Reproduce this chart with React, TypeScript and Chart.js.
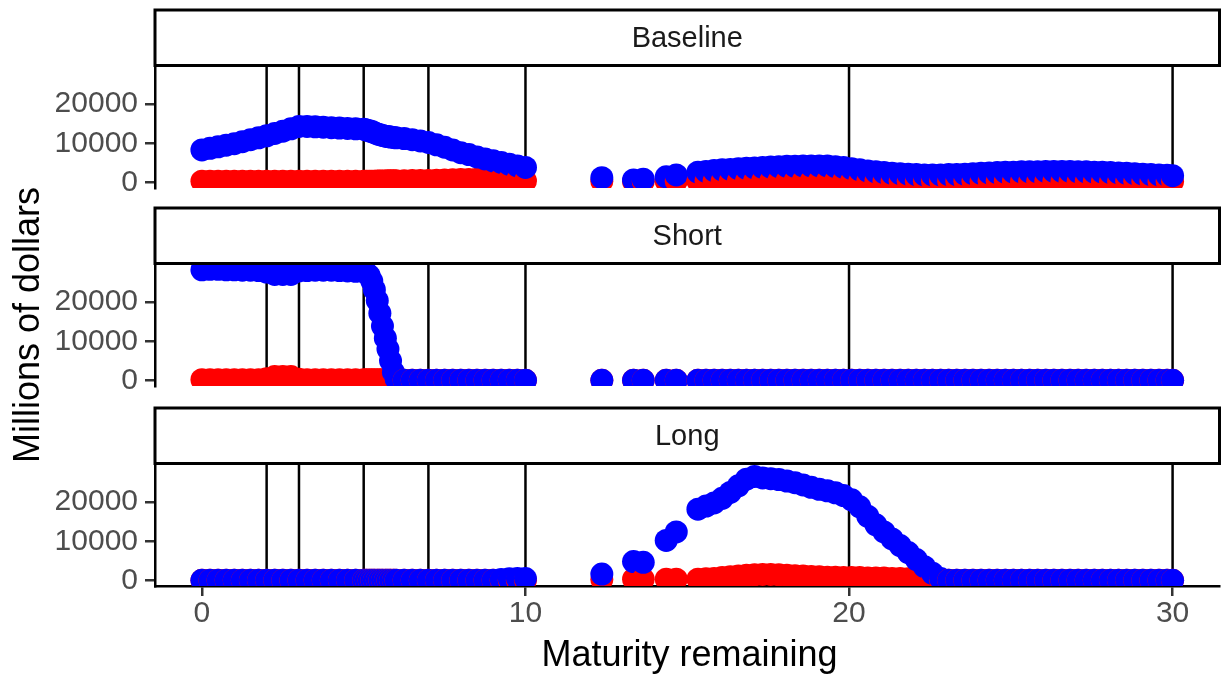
import React, { useEffect, useRef } from "react";
import { Chart, registerables } from "chart.js";

Chart.register(...registerables);

// Years to maturity of each security (shared by all scenarios)
const maturity = [
  0, 0.25, 0.5, 0.75, 1, 1.25, 1.5, 1.75, 2, 2.25,
  2.5, 2.75, 3, 3.25, 3.5, 3.75, 4, 4.25, 4.5, 4.75,
  5, 5.08, 5.17, 5.25, 5.33, 5.42, 5.5, 5.58, 5.67, 5.75, 5.83, 5.92,
  6, 6.25, 6.5, 6.75, 7, 7.25, 7.5, 7.75, 8, 8.25, 8.5, 8.75, 9, 9.25, 9.5, 9.75, 10,
  12.36, 13.34, 13.64, 14.35, 14.66,
  15.33, 15.58, 15.83, 16.08, 16.33, 16.58, 16.83, 17.08, 17.33, 17.58,
  17.83, 18.08, 18.33, 18.58, 18.83, 19.08, 19.33, 19.58, 19.83, 20.08,
  20.33, 20.58, 20.83, 21.08, 21.33, 21.58, 21.83, 22.08, 22.33, 22.58,
  22.83, 23.08, 23.33, 23.58, 23.83, 24.08, 24.33, 24.58, 24.83, 25.08,
  25.33, 25.58, 25.83, 26.08, 26.33, 26.58, 26.83, 27.08, 27.33, 27.58,
  27.83, 28.08, 28.33, 28.58, 28.83, 29.08, 29.33, 29.58, 29.83, 30,
];

// Baseline scenario (millions of dollars)
const baselineRed = [
  300, 300, 300, 300, 300, 300, 300, 300, 300, 300,
  300, 300, 300, 300, 300, 300, 300, 300, 300, 300,
  300, 300, 300, 300, 300, 350, 350, 350, 350, 400, 400, 400,
  400, 400, 450, 450, 500, 550, 600, 650, 700, 750, 800, 800, 800, 750, 650, 500, 350,
  300, 200, 200, 300, 300,
  300, 300, 300, 300, 300, 300, 300, 300, 300, 300,
  300, 300, 300, 300, 300, 300, 300, 300, 300, 300,
  250, 250, 250, 250, 250, 250, 250, 250, 250, 250,
  250, 250, 250, 250, 250, 250, 250, 250, 250, 250,
  200, 200, 200, 200, 200, 200, 200, 200, 200, 200,
  200, 200, 200, 200, 200, 200, 200, 200, 200, 200,
];
const baselineBlue = [
  8300, 8700, 9100, 9500, 9900, 10400, 10900, 11400, 11900, 12500,
  13100, 13700, 14300, 14300, 14200, 14100, 14000, 13900, 13800, 13700,
  13600, 13400, 13200, 13000, 12700, 12400, 12200, 12000, 11800, 11700, 11600, 11500,
  11400, 11200, 10900, 10600, 10200, 9600, 9000, 8300, 7600, 7100, 6500, 6000, 5500, 5100, 4600, 4200, 3800,
  1200, 600, 800, 1400, 1900,
  2600, 2800, 3000, 3200, 3300, 3500, 3600, 3700, 3800, 3900,
  4000, 4100, 4100, 4200, 4200, 4200, 4200, 4000, 3800, 3500,
  3200, 2900, 2700, 2500, 2300, 2200, 2100, 2000, 1900, 1900,
  1900, 2000, 2000, 2100, 2200, 2300, 2400, 2500, 2600, 2600,
  2700, 2700, 2700, 2800, 2800, 2800, 2800, 2700, 2700, 2600,
  2600, 2500, 2400, 2300, 2200, 2100, 2000, 1900, 1800, 1700,
];

// Short scenario
const shortRed = [
  150, 150, 150, 150, 150, 150, 150, 150, 400, 950,
  1000, 950, 300, 150, 150, 150, 150, 150, 150, 150,
  150, 150, 150, 150, 150, 150, 150, 150, 150, 150, 150, 150,
  150, 0, 0, 0, 0, 0, 0, 0, 0, 0, 0, 0, 0, 0, 0, 0, 0,
  0, 0, 0, 0, 0,
  0, 0, 0, 0, 0, 0, 0, 0, 0, 0,
  0, 0, 0, 0, 0, 0, 0, 0, 0, 0,
  0, 0, 0, 0, 0, 0, 0, 0, 0, 0,
  0, 0, 0, 0, 0, 0, 0, 0, 0, 0,
  0, 0, 0, 0, 0, 0, 0, 0, 0, 0,
  0, 0, 0, 0, 0, 0, 0, 0, 0, 0,
];
const shortBlue = [
  28300, 28400, 28400, 28300, 28300, 28200, 28200, 28100, 27700, 27100,
  27100, 27100, 28000, 28100, 28200, 28200, 28200, 28100, 28000, 27900,
  27800, 27500, 26800, 25400, 23200, 20400, 17200, 13900, 10800, 8000, 5000, 2100,
  400, 0, 0, 0, 0, 0, 0, 0, 0, 0, 0, 0, 0, 0, 0, 0, 0,
  0, 0, 0, 0, 0,
  0, 0, 0, 0, 0, 0, 0, 0, 0, 0,
  0, 0, 0, 0, 0, 0, 0, 0, 0, 0,
  0, 0, 0, 0, 0, 0, 0, 0, 0, 0,
  0, 0, 0, 0, 0, 0, 0, 0, 0, 0,
  0, 0, 0, 0, 0, 0, 0, 0, 0, 0,
  0, 0, 0, 0, 0, 0, 0, 0, 0, 0,
];

// Long scenario
const longRed = [
  0, 0, 0, 0, 0, 0, 0, 0, 0, 0,
  0, 0, 0, 0, 0, 0, 0, 0, 0, 0,
  0, 0, 0, 0, 0, 0, 0, 0, 0, 0, 0, 0,
  0, 0, 0, 0, 0, 0, 0, 0, 0, 0, 0, 0, 0, 0, 0, 0, 0,
  200, 300, 300, 300, 300,
  300, 400, 500, 700, 900, 1100, 1300, 1400, 1500, 1500,
  1400, 1300, 1200, 1100, 1000, 900, 800, 800, 700, 700,
  700, 600, 600, 600, 500, 500, 400, 300, 200, 0,
  0, 0, 0, 0, 0, 0, 0, 0, 0, 0,
  0, 0, 0, 0, 0, 0, 0, 0, 0, 0,
  0, 0, 0, 0, 0, 0, 0, 0, 0, 0,
];
const longBlue = [
  0, 0, 0, 0, 0, 0, 0, 0, 0, 0,
  0, 0, 0, 0, 0, 0, 0, 0, 0, 0,
  0, 0, 0, 0, 0, 0, 0, 0, 0, 0, 0, 0,
  0, 0, 0, 0, 0, 0, 0, 0, 0, 0, 0, 0, 0, 200, 400, 450, 450,
  1600, 4800, 4600, 10200, 12400,
  18200, 19000, 19800, 21000, 22500, 24200, 25900, 26600, 26200, 26000,
  25800, 25400, 25000, 24400, 23800, 23300, 22900, 22400, 21700, 20600,
  18800, 16400, 14200, 12400, 10600, 8900, 7100, 5300, 3500, 1800,
  500, 0, 0, 0, 0, 0, 0, 0, 0, 0,
  0, 0, 0, 0, 0, 0, 0, 0, 0, 0,
  0, 0, 0, 0, 0, 0, 0, 0, 0, 0,
];

const panelNames = ["Baseline", "Short", "Long"];
const panelReds = [baselineRed, shortRed, longRed];
const panelBlues = [baselineBlue, shortBlue, longBlue];

const xTicks = [0, 10, 20, 30];
const yTicks = [0, 10000, 20000];
const referenceYears = [2, 3, 5, 7, 10, 20, 30];

const X_MIN = -1.45;
const X_MAX = 31.45;
const Y_MIN = -1450;
const Y_MAX = 29900;

const RED = "#FF0000";
const BLUE = "#0000FF";

// Page geometry
const W = 1231;
const H = 677;
const PLOT_LEFT = 155;
const PLOT_RIGHT = 1224;
const PANEL_TOPS = [65.5, 263.5, 463.5];
const PANEL_H = 122.5;
const STRIP_H = 55.5;
const X_AXIS_H = 60;

const FONT = "'Liberation Sans', Arial, Helvetica, sans-serif";
const TICK_FONT = { family: FONT, size: 30 };

function facetPlugin(label: string, isLast: boolean) {
  return {
    id: "facetDecor",
    afterDraw(chart: any) {
      const { ctx, chartArea } = chart;
      const { left, right, top } = chartArea;
      ctx.save();
      // strip above the panel
      ctx.fillStyle = "#FFFFFF";
      ctx.fillRect(left, top - STRIP_H, right - left, STRIP_H);
      ctx.strokeStyle = "#000000";
      ctx.lineWidth = 3;
      ctx.strokeRect(left, top - STRIP_H, right - left, STRIP_H);
      ctx.fillStyle = "#1A1A1A";
      ctx.font = `29px ${FONT}`;
      ctx.textAlign = "center";
      ctx.textBaseline = "middle";
      ctx.fillText(label, (left + right) / 2, top - STRIP_H / 2 + 1);

      if (isLast) {
        ctx.fillStyle = "#000000";
        ctx.font = `36px ${FONT}`;
        ctx.fillText("Maturity remaining", (PLOT_LEFT + PLOT_RIGHT) / 2, 656);
        ctx.translate(29, 325);
        ctx.rotate(-Math.PI / 2);
        ctx.fillText("Millions of dollars", 0, 0);
      }
      ctx.restore();
    },
  };
}

function makeConfig(idx: number): any {
  const isLast = idx === panelNames.length - 1;
  const red = panelReds[idx];
  const blue = panelBlues[idx];
  const points: { x: number; y: number }[] = [];
  const colors: string[] = [];
  maturity.forEach((m, i) => {
    points.push({ x: m, y: red[i] });
    colors.push(RED);
    points.push({ x: m, y: blue[i] });
    colors.push(BLUE);
  });

  const top = PANEL_TOPS[idx];
  const bottomPad = isLast ? H - (top + PANEL_H) - X_AXIS_H : H - (top + PANEL_H);

  const vlines = referenceYears.map((v) => ({
    type: "line",
    data: [
      { x: v, y: Y_MIN },
      { x: v, y: Y_MAX },
    ],
    borderColor: "#000000",
    borderWidth: 2.5,
    pointRadius: 0,
    fill: false,
    order: 2,
  }));

  return {
    type: "scatter",
    data: {
      datasets: [
        ...vlines,
        {
          type: "scatter",
          data: points,
          pointBackgroundColor: colors,
          pointBorderWidth: 0,
          pointRadius: 11.5,
          pointHoverRadius: 11.5,
          order: 1,
        },
      ],
    },
    options: {
      animation: false,
      responsive: false,
      devicePixelRatio: 1,
      events: [],
      plugins: {
        legend: { display: false },
        tooltip: { enabled: false },
      },
      layout: {
        padding: { left: 0, right: W - PLOT_RIGHT, top, bottom: bottomPad },
      },
      scales: {
        x: {
          type: "linear",
          min: X_MIN,
          max: X_MAX,
          display: isLast,
          afterBuildTicks(scale: any) {
            scale.ticks = xTicks.map((v) => ({ value: v }));
          },
          afterFit(scale: any) {
            scale.height = isLast ? X_AXIS_H : 0;
          },
          border: { display: true, color: "#000000", width: 2.5 },
          grid: {
            drawOnChartArea: false,
            drawTicks: true,
            tickLength: 10,
            color: "#333333",
            lineWidth: 2.5,
          },
          ticks: {
            color: "#4D4D4D",
            padding: 0,
            maxRotation: 0,
            font: TICK_FONT,
            callback: (v: any) => String(v),
          },
        },
        y: {
          type: "linear",
          min: Y_MIN,
          max: Y_MAX,
          afterBuildTicks(scale: any) {
            scale.ticks = yTicks.map((v) => ({ value: v }));
          },
          afterFit(scale: any) {
            scale.width = PLOT_LEFT;
          },
          border: { display: true, color: "#000000", width: 2.5 },
          grid: {
            drawOnChartArea: false,
            drawTicks: true,
            tickLength: 10,
            color: "#333333",
            lineWidth: 2.5,
          },
          ticks: {
            color: "#4D4D4D",
            padding: 7,
            font: TICK_FONT,
            callback: (v: any) => String(v),
          },
        },
      },
    },
    plugins: [facetPlugin(panelNames[idx], isLast)],
  };
}

export default function App() {
  const holder = useRef<HTMLDivElement>(null);

  useEffect(() => {
    const canvases = holder.current
      ? Array.from(holder.current.querySelectorAll("canvas"))
      : [];
    const charts = canvases.map((c, i) => new Chart(c as HTMLCanvasElement, makeConfig(i)));
    return () => charts.forEach((c) => c.destroy());
  }, []);

  return (
    <div
      ref={holder}
      style={{ position: "fixed", left: 0, top: 0, width: W, height: H, background: "#FFFFFF" }}
    >
      {panelNames.map((name) => (
        <canvas
          key={name}
          width={W}
          height={H}
          style={{ position: "absolute", left: 0, top: 0, width: W, height: H }}
        />
      ))}
    </div>
  );
}
